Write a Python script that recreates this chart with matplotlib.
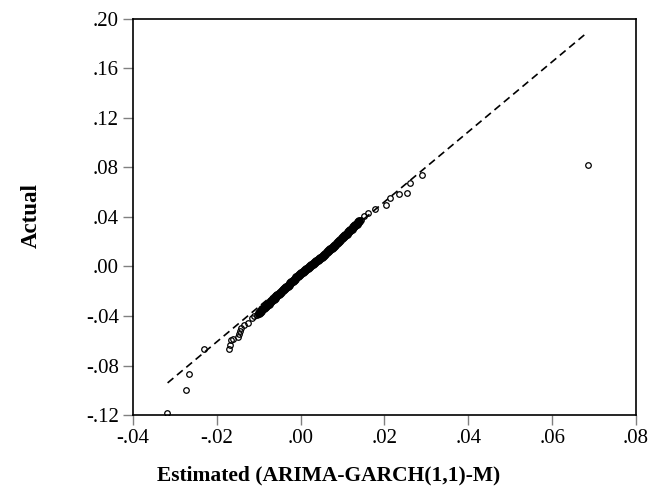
import matplotlib
matplotlib.use("Agg")
import matplotlib.pyplot as plt
from matplotlib.ticker import FuncFormatter

# Scattered points (estimated, actual)
sparse_x = [-0.0319, -0.0274, -0.0267, -0.0231, -0.0171, -0.0168, -0.0166, -0.0161,
            -0.0148, -0.0147, -0.0145, -0.0142, -0.0134, -0.0126, -0.0115, -0.0111,
            -0.0105, -0.0102,
            0.0143, 0.0152, 0.0161, 0.0177, 0.0204, 0.0213, 0.0235, 0.0254, 0.0261,
            0.0289, 0.0685]
sparse_y = [-0.1185, -0.0995, -0.0870, -0.0670, -0.0666, -0.0637, -0.0597, -0.0583,
            -0.0569, -0.0544, -0.0525, -0.0498, -0.0474, -0.0455, -0.0417, -0.0397,
            -0.0392, -0.0384,
            0.0376, 0.0409, 0.0430, 0.0466, 0.0493, 0.0553, 0.0588, 0.0593, 0.0675,
            0.0735, 0.0820]

# Dense central part of the scatter
dense_x = [-0.0100, -0.0097, -0.0094, -0.0091, -0.0088, -0.0085, -0.0082, -0.0079,
           -0.0076, -0.0073, -0.0070, -0.0067, -0.0064, -0.0061, -0.0058, -0.0055,
           -0.0052, -0.0049, -0.0046, -0.0043, -0.0040, -0.0037, -0.0034, -0.0031,
           -0.0028, -0.0025, -0.0022, -0.0019, -0.0016, -0.0013, -0.0010, -0.0007,
           -0.0004, -0.0001,
           0.0002, 0.0005, 0.0008, 0.0011, 0.0014, 0.0017, 0.0020, 0.0023, 0.0026,
           0.0029, 0.0032, 0.0035, 0.0038, 0.0041, 0.0044, 0.0047, 0.0050, 0.0053,
           0.0056, 0.0059, 0.0062, 0.0065, 0.0068,
           0.0071, 0.0074, 0.0077, 0.0080, 0.0083, 0.0086, 0.0089, 0.0092, 0.0095,
           0.0098, 0.0101, 0.0104, 0.0107, 0.0110, 0.0113, 0.0116, 0.0119, 0.0122,
           0.0125, 0.0128, 0.0131, 0.0134, 0.0137, 0.0140]
dense_y = [-0.0375, -0.0365, -0.0356, -0.0346, -0.0337, -0.0327, -0.0318, -0.0308,
           -0.0299, -0.0289, -0.0280, -0.0270, -0.0261, -0.0251, -0.0241, -0.0232,
           -0.0222, -0.0213, -0.0203, -0.0194, -0.0184, -0.0175, -0.0165, -0.0156,
           -0.0146, -0.0137, -0.0127, -0.0118, -0.0108, -0.0099, -0.0089, -0.0080,
           -0.0070, -0.0060,
           -0.0051, -0.0043, -0.0035, -0.0027, -0.0019, -0.0010, -0.0002, 0.0006,
           0.0014, 0.0022, 0.0031, 0.0039, 0.0047, 0.0055, 0.0063, 0.0072, 0.0080,
           0.0088, 0.0096, 0.0104, 0.0113, 0.0121, 0.0129,
           0.0137, 0.0147, 0.0157, 0.0167, 0.0177, 0.0187, 0.0197, 0.0207, 0.0216,
           0.0226, 0.0236, 0.0246, 0.0256, 0.0266, 0.0276, 0.0286, 0.0296, 0.0305,
           0.0315, 0.0325, 0.0335, 0.0345, 0.0355, 0.0365]

# Reference line endpoints
line_x = [-0.0317, 0.0684]
line_y = [-0.0940, 0.1890]

x_ticks = [-0.04, -0.02, 0.00, 0.02, 0.04, 0.06, 0.08]
y_ticks = [-0.12, -0.08, -0.04, 0.00, 0.04, 0.08, 0.12, 0.16, 0.20]

plt.rcParams['font.family'] = ['Liberation Serif', 'DejaVu Serif']

fig = plt.figure(figsize=(6.51, 4.93), dpi=100)
ax = fig.add_axes([0.204, 0.158, 0.773, 0.804])

ax.plot(line_x, line_y, color='black', lw=1.2, ls=(0, (4.5, 2.8)))
ax.plot(dense_x, dense_y, ls='none', marker='o', ms=4.4, mfc='none',
        mec='black', mew=2.0)
ax.plot(sparse_x, sparse_y, ls='none', marker='o', ms=4.0, mfc='none',
        mec='black', mew=0.9)

ax.set_xlim(-0.04, 0.08)
ax.set_ylim(-0.12, 0.20)
ax.set_xticks(x_ticks)
ax.set_yticks(y_ticks)

def fmt(v, pos):
    s = f"{v:.2f}"
    if s.startswith("-0"):
        return "-" + s[2:]
    if s.startswith("0"):
        return s[1:]
    return s

ax.xaxis.set_major_formatter(FuncFormatter(fmt))
ax.yaxis.set_major_formatter(FuncFormatter(fmt))
ax.tick_params(direction='out', length=7, width=1, color='#808080',
               labelsize=15, pad=3)
for sp in ax.spines.values():
    sp.set_linewidth(1.2)
    sp.set_color('black')

ax.set_xlabel('Estimated (ARIMA-GARCH(1,1)-M)', fontsize=15.5, fontweight='bold')
ax.xaxis.set_label_coords((329 - 133) / 503, -(475 - 415) / 396)
ax.xaxis.label.set_va('center')
ax.set_ylabel('Actual', fontsize=16.5, fontweight='bold')
ax.yaxis.set_label_coords(-(133 - 32) / 503, (415 - 216) / 396)
ax.yaxis.label.set_va('center')

fig.savefig('out.png', dpi=100)
